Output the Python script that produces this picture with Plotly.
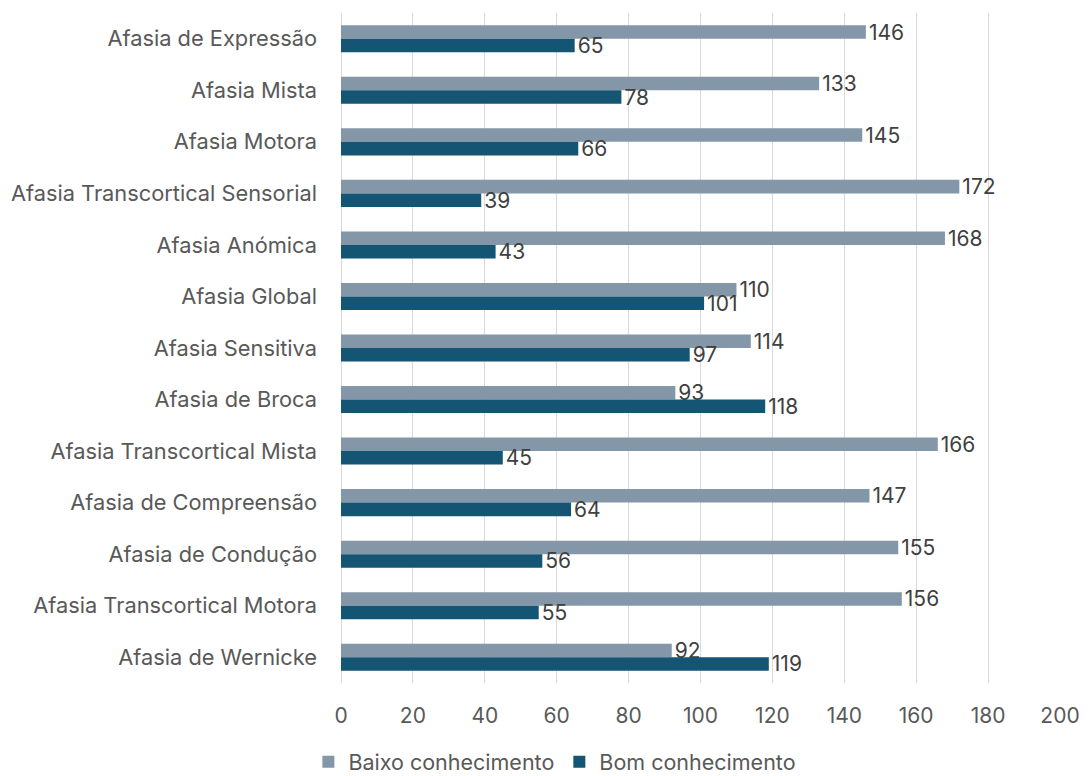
import plotly.graph_objects as go

categories = [
    "Afasia de Expressão", "Afasia Mista", "Afasia Motora",
    "Afasia Transcortical Sensorial", "Afasia Anómica", "Afasia Global",
    "Afasia Sensitiva", "Afasia de Broca", "Afasia Transcortical Mista",
    "Afasia de Compreensão", "Afasia de Condução",
    "Afasia Transcortical Motora", "Afasia de Wernicke",
]
baixo = [146, 133, 145, 172, 168, 110, 114, 93, 166, 147, 155, 156, 92]
bom = [65, 78, 66, 39, 43, 101, 97, 118, 45, 64, 56, 55, 119]
tick_vals = list(range(0, 201, 20))

FONT = "Inter, Open Sans, sans-serif"
FS = 21
TICK_COLOR = "#595959"
LABEL_COLOR = "#404040"

fig = go.Figure()
fig.add_trace(go.Bar(
    y=categories, x=baixo, orientation="h", name="Baixo conhecimento",
    marker=dict(color="#8497A9", line=dict(width=0)),
    text=baixo, textposition="outside", cliponaxis=False,
    constraintext="none",
    textfont=dict(size=FS, color=LABEL_COLOR, family=FONT),
))
fig.add_trace(go.Bar(
    y=categories, x=bom, orientation="h", name="Bom conhecimento",
    marker=dict(color="#145574", line=dict(width=0)),
    text=bom, textposition="outside", cliponaxis=False,
    constraintext="none",
    textfont=dict(size=FS, color=LABEL_COLOR, family=FONT),
))

fig.update_layout(
    width=1088, height=776,
    barmode="group", bargap=0.475, bargroupgap=0,
    plot_bgcolor="white", paper_bgcolor="white",
    margin=dict(l=341, r=28, t=13, b=93, autoexpand=False),
    font=dict(family=FONT, size=FS, color=TICK_COLOR),
    xaxis=dict(
        range=[0, 200], tickvals=tick_vals, showgrid=True,
        gridcolor="#D9D9D9", gridwidth=1, zeroline=True,
        zerolinecolor="#D9D9D9", zerolinewidth=1, showline=False,
        ticks="", ticklabelstandoff=18,
        tickfont=dict(size=FS, color=TICK_COLOR),
    ),
    yaxis=dict(
        autorange="reversed", showgrid=False, showline=False,
        ticks="", ticklabelstandoff=23,
        tickfont=dict(size=21.8, color=TICK_COLOR),
    ),
    legend=dict(
        orientation="h", x=0.51, xanchor="center", xref="container",
        y=-0.087, yanchor="top", yref="paper",
        font=dict(size=21.5, color=TICK_COLOR),
        itemwidth=30, traceorder="normal",
    ),
)

fig.write_html("out.html")
